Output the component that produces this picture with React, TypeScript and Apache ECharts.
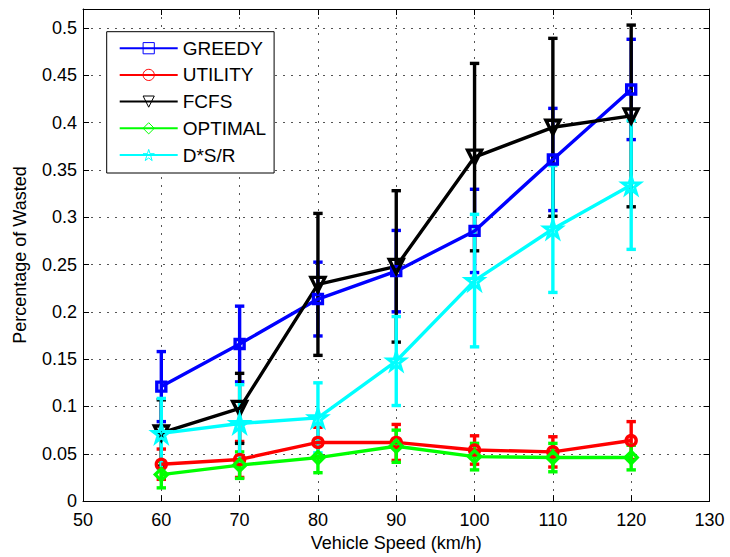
import React, { useEffect, useRef } from 'react';
import * as echarts from 'echarts';

const speeds = [60, 70, 80, 90, 100, 110, 120];

const greedy = [0.121, 0.166, 0.2135, 0.243, 0.2855, 0.361, 0.435];
const greedyErr = [0.037, 0.040, 0.039, 0.043, 0.044, 0.054, 0.053];

const utility = [0.039, 0.044, 0.062, 0.062, 0.054, 0.052, 0.064];
const utilityErr = [0.016, 0.019, 0.016, 0.019, 0.015, 0.016, 0.020];

const fcfs = [0.072, 0.098, 0.229, 0.248, 0.3635, 0.395, 0.407];
const fcfsErr = [0.035, 0.037, 0.075, 0.080, 0.099, 0.094, 0.096];

const optimal = [0.028, 0.038, 0.046, 0.058, 0.047, 0.046, 0.046];
const optimalErr = [0.014, 0.014, 0.016, 0.017, 0.014, 0.015, 0.013];

const dsr = [0.0715, 0.082, 0.088, 0.148, 0.233, 0.2875, 0.334];
const dsrErr = [0.037, 0.041, 0.037, 0.047, 0.070, 0.067, 0.068];

const seriesNames = ['GREEDY', 'UTILITY', 'FCFS', 'OPTIMAL', 'D*S/R'];
const xLabel = 'Vehicle Speed (km/h)';
const yLabel = 'Percentage of Wasted';

const FONT = '"Liberation Sans", Arial, Helvetica, sans-serif';
const STAR =
  'path://M100,0L122.45,69.1L195.1,69.1L136.3,111.8L158.8,180.9L100,138.2L41.2,180.9L63.7,111.8L4.9,69.1L77.55,69.1Z';
const LW = 3.4;

function errSeries(name: string, means: number[], errs: number[], color: string) {
  return {
    name: name + ' err',
    type: 'custom',
    xAxisIndex: 0,
    yAxisIndex: 0,
    silent: true,
    data: speeds.map((x, i) => [x, means[i] - errs[i], means[i] + errs[i]]),
    encode: { x: 0, y: [1, 2] },
    renderItem: (params: any, api: any) => {
      const x = api.value(0);
      const lo = api.coord([x, api.value(1)]);
      const hi = api.coord([x, api.value(2)]);
      const hw = 4.7;
      const style = { stroke: color, lineWidth: LW, fill: 'none' };
      return {
        type: 'group',
        children: [
          { type: 'line', shape: { x1: lo[0], y1: lo[1], x2: hi[0], y2: hi[1] }, style },
          { type: 'line', shape: { x1: lo[0] - hw, y1: lo[1], x2: lo[0] + hw, y2: lo[1] }, style },
          { type: 'line', shape: { x1: hi[0] - hw, y1: hi[1], x2: hi[0] + hw, y2: hi[1] }, style },
        ],
      };
    },
  };
}

function lineSeries(
  name: string,
  means: number[],
  color: string,
  symbol: string,
  symbolSize: number,
  symbolRotate = 0,
  borderWidth = LW
) {
  return {
    name,
    type: 'line',
    xAxisIndex: 0,
    yAxisIndex: 0,
    data: speeds.map((x, i) => [x, means[i]]),
    symbol,
    symbolSize,
    symbolRotate,
    showAllSymbol: true,
    color,
    lineStyle: { color, width: LW },
    itemStyle: { color: 'rgba(255,255,255,0)', borderColor: color, borderWidth },
    emphasis: { disabled: true },
  };
}

export default function App() {
  const ref = useRef<HTMLDivElement>(null);

  useEffect(() => {
    const chart = echarts.init(ref.current!, null, { renderer: 'svg' });
    const axisText = { color: '#000', fontSize: 18, fontFamily: FONT };
    const option: any = {
      animation: false,
      backgroundColor: '#fff',
      textStyle: { fontFamily: FONT },
      grid: { left: 83, right: 20.5, top: 9, bottom: 54.5, containLabel: false },
      legend: {
        data: seriesNames,
        orient: 'vertical',
        left: 106.7,
        top: 31.7,
        padding: [7, 8, 8.5, 12],
        itemWidth: 58,
        itemHeight: 14,
        itemGap: 7.7,
        backgroundColor: '#fff',
        borderColor: '#000',
        borderWidth: 1,
        borderRadius: 0,
        itemStyle: { borderWidth: 1 },
        textStyle: { color: '#000', fontSize: 19, fontFamily: FONT },
        selectedMode: false,
      },
      xAxis: [
        {
          type: 'value',
          min: 50,
          max: 130,
          interval: 10,
          name: xLabel,
          nameLocation: 'middle',
          nameGap: 32,
          nameTextStyle: axisText,
          axisLine: { show: true, onZero: false, lineStyle: { color: '#000', width: 1 } },
          axisTick: { show: true, inside: true, length: 6, lineStyle: { color: '#000' } },
          axisLabel: { ...axisText, margin: 10 },
          splitLine: { show: true, lineStyle: { color: '#555', type: [2, 6], width: 1 } },
        },
        {
          type: 'value',
          position: 'top',
          min: 50,
          max: 130,
          interval: 10,
          axisLine: { show: true, onZero: false, lineStyle: { color: '#000', width: 1 } },
          axisTick: { show: true, inside: true, length: 6, lineStyle: { color: '#000' } },
          axisLabel: { show: false },
          splitLine: { show: false },
        },
      ],
      yAxis: [
        {
          type: 'value',
          min: 0,
          max: 0.52,
          interval: 0.05,
          name: yLabel,
          nameLocation: 'middle',
          nameGap: 54,
          nameTextStyle: axisText,
          axisLine: { show: true, onZero: false, lineStyle: { color: '#000', width: 1 } },
          axisTick: { show: true, inside: true, length: 6, lineStyle: { color: '#000' } },
          axisLabel: { ...axisText, margin: 6, showMaxLabel: false },
          splitLine: { show: true, lineStyle: { color: '#555', type: [2, 6], width: 1 } },
        },
        {
          type: 'value',
          position: 'right',
          min: 0,
          max: 0.52,
          interval: 0.05,
          axisLine: { show: true, onZero: false, lineStyle: { color: '#000', width: 1 } },
          axisTick: { show: true, inside: true, length: 6, lineStyle: { color: '#000' } },
          axisLabel: { show: false },
          splitLine: { show: false },
        },
      ],
      series: [
        errSeries('GREEDY', greedy, greedyErr, '#0000ff'),
        lineSeries('GREEDY', greedy, '#0000ff', 'rect', 9),
        errSeries('UTILITY', utility, utilityErr, '#ff0000'),
        lineSeries('UTILITY', utility, '#ff0000', 'circle', 10),
        errSeries('FCFS', fcfs, fcfsErr, '#000000'),
        lineSeries('FCFS', fcfs, '#000000', 'triangle', 14, 180),
        errSeries('OPTIMAL', optimal, optimalErr, '#00ff00'),
        lineSeries('OPTIMAL', optimal, '#00ff00', 'diamond', 12),
        errSeries('D*S/R', dsr, dsrErr, '#00ffff'),
        lineSeries('D*S/R', dsr, '#00ffff', STAR, 17, 0, 3),
      ],
    };
    chart.setOption(option);
    return () => chart.dispose();
  }, []);

  return (
    <div
      ref={ref}
      style={{ position: 'absolute', left: 0, top: 0, width: 730, height: 557 }}
    />
  );
}
